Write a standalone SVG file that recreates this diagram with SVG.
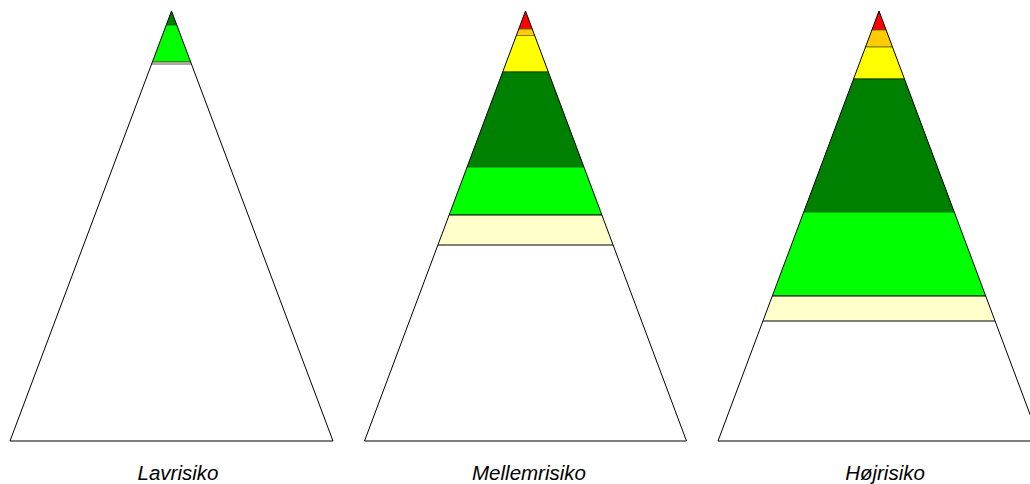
<svg xmlns="http://www.w3.org/2000/svg" width="1030" height="484" viewBox="0 0 1030 484">
<style>
.tri{fill:none;stroke:#000;stroke-width:1}
.lbl{font-family:"Liberation Sans",Arial,sans-serif;font-size:20.5px;font-style:italic;fill:#000;text-anchor:middle}
.red{fill:#FF0000;stroke:#800000}
.org{fill:#FFCC00;stroke:#806600}
.yel{fill:#FFFF00;stroke:#808000}
.dgr{fill:#008000;stroke:#004000}
.lgr{fill:#00FF00;stroke:#008000}
.lye{fill:#FFFFCC;stroke:#000}
</style>
<defs>
<clipPath id="c1"><polygon points="171.5,11 333,441 10,441"/></clipPath>
<clipPath id="c2"><polygon points="525.5,11 686.5,441 364.5,441"/></clipPath>
<clipPath id="c3"><polygon points="879,11 1040,441 718,441"/></clipPath>
</defs>
<rect width="1030" height="484" fill="#fff"/>
<g id="lavrisiko">
<g clip-path="url(#c1)">
<rect class="dgr" x="0" y="5" width="350" height="20"/>
<rect class="lgr" x="0" y="25" width="350" height="37"/>
<rect class="lye" x="0" y="62" width="350" height="2" style="stroke:#555"/>
</g>
<polygon class="tri" points="171.5,11 333,441 10,441"/>
<text class="lbl" x="178" y="480">Lavrisiko</text>
</g>
<g id="mellemrisiko">
<g clip-path="url(#c2)">
<rect class="red" x="355" y="5" width="350" height="24"/>
<rect class="org" x="355" y="29" width="350" height="6.5"/>
<rect class="yel" x="355" y="35.5" width="350" height="36.5"/>
<rect class="dgr" x="355" y="72" width="350" height="95"/>
<rect class="lgr" x="355" y="167" width="350" height="48"/>
<rect class="lye" x="355" y="215" width="350" height="30"/>
</g>
<polygon class="tri" points="525.5,11 686.5,441 364.5,441"/>
<text class="lbl" x="529" y="480">Mellemrisiko</text>
</g>
<g id="hojrisiko">
<g clip-path="url(#c3)">
<rect class="red" x="710" y="5" width="340" height="25"/>
<rect class="org" x="710" y="30" width="340" height="17"/>
<rect class="yel" x="710" y="47" width="340" height="32"/>
<rect class="dgr" x="710" y="79" width="340" height="133"/>
<rect class="lgr" x="710" y="212" width="340" height="84"/>
<rect class="lye" x="710" y="296" width="340" height="25"/>
</g>
<polygon class="tri" points="879,11 1040,441 718,441"/>
<text class="lbl" x="885" y="480">Højrisiko</text>
</g>
<g id="connectors"/>
</svg>
